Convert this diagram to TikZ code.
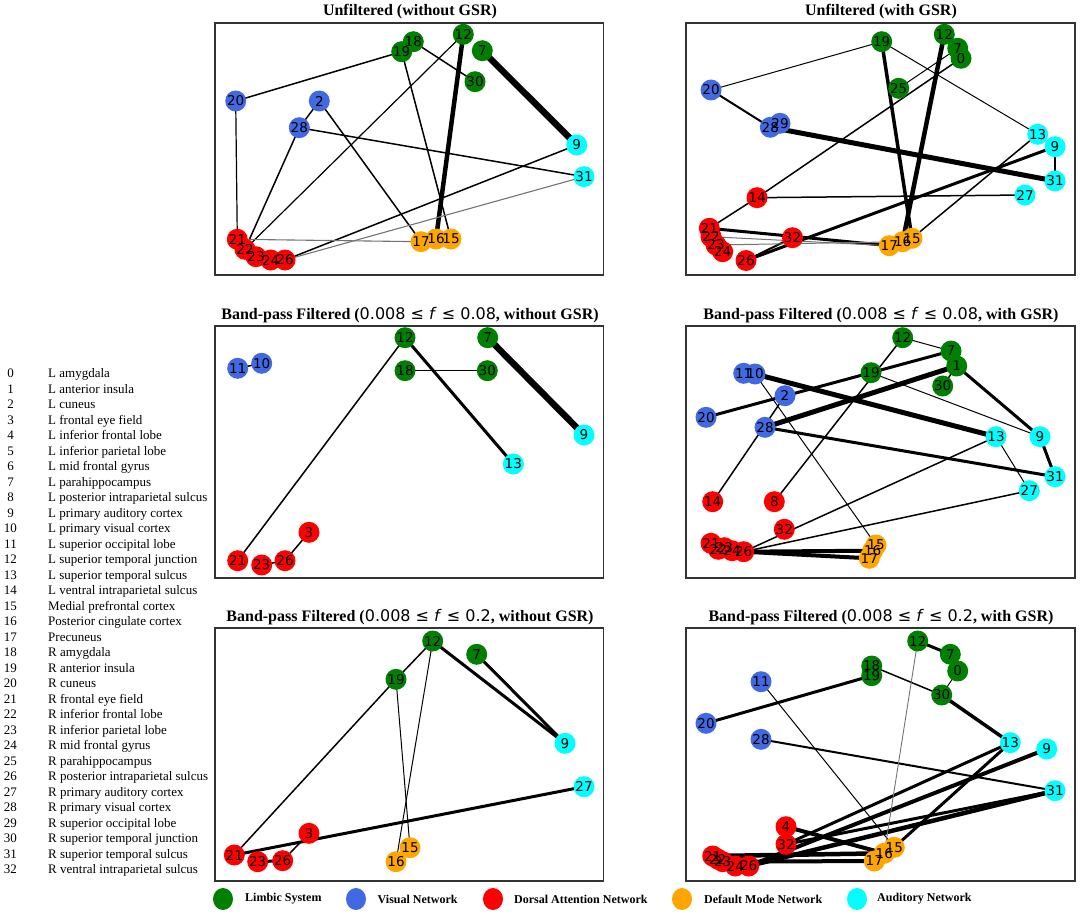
\documentclass[tikz,border=0pt]{standalone}
\usepackage{fontspec}
\setmainfont{Liberation Serif}
\newfontfamily\djv{DejaVu Sans}
\usetikzlibrary{shapes.geometric}
\pgfdeclarelayer{bg}
\pgfsetlayers{bg,main}
\definecolor{lim}{HTML}{008000}
\definecolor{vis}{HTML}{4169E1}
\definecolor{dan}{HTML}{FF0000}
\definecolor{dmn}{HTML}{FFA500}
\definecolor{aud}{HTML}{00FFFF}
\newcommand\frng[1]{{\djv\mdseries 0.008 ≤ \textit{f} ≤ #1}}
\begin{document}
\begin{tikzpicture}[x=1pt,y=-1pt,
 nd/.style={circle,inner sep=0pt,minimum size=21pt,draw=none},
 lbl/.style={font=\djv\fontsize{13.5}{13.5}\selectfont,inner sep=0pt},
 lk/.style={line width=#1pt,black},
 lkg/.style={line width=#1pt,black!55},
 frame/.style={draw=black!80,line width=1.2pt},
 ttl/.style={font=\bfseries\fontsize{16}{16}\selectfont,anchor=base,inner sep=0pt},
 num/.style={font=\fontsize{13}{13}\selectfont,anchor=base,inner sep=0pt},
 reg/.style={font=\fontsize{13}{13}\selectfont,anchor=base west,inner sep=0pt},
 legm/.style={ellipse,inner sep=0pt,minimum width=20pt,minimum height=22pt},
 legt/.style={font=\bfseries\fontsize{12}{12}\selectfont,anchor=west,inner sep=0pt}]

\useasboundingbox (0,0) rectangle (1084,915);

% frames
\draw[frame] (215,23) rectangle (603.5,275);
\draw[frame] (686,23) rectangle (1075,275);
\draw[frame] (215,326) rectangle (603.5,578);
\draw[frame] (686,326) rectangle (1075,578);
\draw[frame] (215,628) rectangle (603.5,881);
\draw[frame] (686,628) rectangle (1075,881);

% titles
\node[ttl] (t1) at (410,16) {Unfiltered (without GSR)};
\node[ttl] (t2) at (881,16) {Unfiltered (with GSR)};
\node[ttl] (t3) at (410,319) {Band-pass Filtered (\frng{0.08}, without GSR)};
\node[ttl] (t4) at (881,319) {Band-pass Filtered (\frng{0.08}, with GSR)};
\node[ttl] (t5) at (410,621) {Band-pass Filtered (\frng{0.2}, without GSR)};
\node[ttl] (t6) at (881,621) {Band-pass Filtered (\frng{0.2}, with GSR)};

% ---------------- Panel 1
\foreach \i/\x/\y/\c in {2/319.3/101/vis, 7/482.3/50.7/lim, 9/576.7/145/aud, 12/463.3/34.3/lim, 15/451/239/dmn, 16/436/239/dmn, 17/421/241.7/dmn, 18/413.3/41.7/lim, 19/401.7/51.7/lim, 20/235.7/101/vis, 21/237.3/239.3/dan, 22/245/249.3/dan, 23/256/256.7/dan, 24/270.7/260/dan, 26/285/260/dan, 28/299.3/127.7/vis, 30/475/81.7/lim, 31/584/176.7/aud}
  \node[nd,fill=\c] (p1n\i) at (\x,\y) {};
\begin{pgfonlayer}{bg}
\foreach \a/\b/\w in {19/20/1.5, 18/30/1.5, 19/15/1.5, 12/16/4.5, 7/9/6.5, 12/22/1.2, 2/28/1.5, 28/22/1.5, 2/17/1.5, 28/31/1.5, 9/26/1.5, 20/21/1.2}
  \draw[lk=\w] (p1n\a.center) -- (p1n\b.center);
\foreach \a/\b/\w in {31/26/1.1, 21/17/1.1}
  \draw[lkg=\w] (p1n\a.center) -- (p1n\b.center);
\end{pgfonlayer}
\foreach \i in {2,7,9,12,15,16,17,18,19,20,21,22,23,24,26,28,30,31}
  \node[lbl] at (p1n\i) {\i};

% ---------------- Panel 2
\foreach \i/\x/\y/\c in {0/961/58.3/lim, 7/957.7/48.3/lim, 9/1055/146.7/aud, 12/944.3/34.3/lim, 13/1037.7/134.3/aud, 14/757/197.7/dan, 15/912/238.3/dmn, 16/902.7/241.7/dmn, 17/889.3/245.7/dmn, 19/881.7/41.7/lim, 20/711/90/vis, 21/709.3/228.3/dan, 22/711/236.7/dan, 23/716/245/dan, 24/722.7/251.7/dan, 25/898.7/88.3/lim, 26/746/260.5/dan, 27/1025/195/aud, 28/770.3/127.3/vis, 29/780/123.3/vis, 31/1055/181/aud, 32/792.5/237.7/dan}
  \node[nd,fill=\c] (p2n\i) at (\x,\y) {};
\begin{pgfonlayer}{bg}
\foreach \a/\b/\w in {19/20/1, 19/13/1, 19/15/3.5, 12/16/4.5, 7/25/1, 0/14/1.5, 20/28/2, 28/31/5, 9/31/1.5, 14/27/1.5, 14/21/1.5, 21/17/3, 26/9/3, 26/32/2, 13/15/1.5}
  \draw[lk=\w] (p2n\a.center) -- (p2n\b.center);
\foreach \a/\b/\w in {22/17/1, 23/16/1}
  \draw[lkg=\w] (p2n\a.center) -- (p2n\b.center);
\end{pgfonlayer}
\foreach \i in {0,7,9,12,13,14,15,16,17,19,20,21,22,23,24,25,26,27,28,29,31,32}
  \node[lbl] at (p2n\i) {\i};

% ---------------- Panel 3
\foreach \i/\x/\y/\c in {3/309/532.3/dan, 7/487.7/337.7/lim, 9/584/435/aud, 10/261.7/363.3/vis, 11/237.7/368.3/vis, 12/405/337.7/lim, 13/513.3/464/aud, 18/405/370.7/lim, 21/237.7/560.7/dan, 23/261.7/565/dan, 26/285/560.7/dan, 30/487.3/370.7/lim}
  \node[nd,fill=\c] (p3n\i) at (\x,\y) {};
\begin{pgfonlayer}{bg}
\foreach \a/\b/\w in {12/21/1.5, 12/13/3, 18/30/1.5, 7/9/6.5, 11/10/1.5, 3/26/1.5, 23/26/1.5}
  \draw[lk=\w] (p3n\a.center) -- (p3n\b.center);
\end{pgfonlayer}
\foreach \i in {3,7,9,10,11,12,13,18,21,23,26,30}
  \node[lbl] at (p3n\i) {\i};

% ---------------- Panel 4
\foreach \i/\x/\y/\c in {1/956.7/366/lim, 2/785/395.7/vis, 7/951/351/lim, 8/774.3/501.7/dan, 9/1040/436.7/aud, 10/755/374/vis, 11/743.7/373.3/vis, 12/902.7/337.7/lim, 13/996/436.7/aud, 14/712.7/501.7/dan, 15/876/545/dmn, 16/872.7/550.7/dmn, 17/869.3/558.3/dmn, 19/871/372.7/lim, 20/706/417.3/vis, 21/711/543.3/dan, 22/718.3/549.3/dan, 23/724.3/547.7/dan, 24/732/550.7/dan, 26/743.7/551.7/dan, 27/1029.3/490.7/aud, 28/765/427.3/vis, 30/942.7/386/lim, 31/1055/476.7/aud, 32/784.3/529.3/dan}
  \node[nd,fill=\c] (p4n\i) at (\x,\y) {};
\begin{pgfonlayer}{bg}
\foreach \a/\b/\w in {12/7/1, 12/8/1.5, 7/20/3, 1/28/5, 1/9/3, 1/30/1.5, 10/13/5, 10/15/1, 19/9/1, 2/14/1.5, 28/31/3, 9/31/3, 13/27/1, 13/26/1.5, 27/26/1.5, 26/16/4, 26/17/4}
  \draw[lk=\w] (p4n\a.center) -- (p4n\b.center);
\end{pgfonlayer}
\foreach \i in {1,2,7,8,9,10,11,12,13,14,15,16,17,19,20,21,22,23,24,26,27,28,30,31,32}
  \node[lbl] at (p4n\i) {\i};

% ---------------- Panel 5
\foreach \i/\x/\y/\c in {3/309/833.3/dan, 7/476.7/654.3/lim, 9/565/743.3/aud, 12/432.7/641/lim, 15/410/847.7/dmn, 16/396/861.7/dmn, 19/396/679.3/lim, 21/234.3/855/dan, 23/257.7/861.7/dan, 26/282.7/860.7/dan, 27/584/786.7/aud}
  \node[nd,fill=\c] (p5n\i) at (\x,\y) {};
\begin{pgfonlayer}{bg}
\foreach \a/\b/\w in {12/19/1.5, 19/21/1.5, 12/9/3, 7/9/3, 19/15/1, 12/16/1, 21/27/3, 3/26/1.5, 23/26/3}
  \draw[lk=\w] (p5n\a.center) -- (p5n\b.center);
\end{pgfonlayer}
\foreach \i in {3,7,9,12,15,16,19,21,23,26,27}
  \node[lbl] at (p5n\i) {\i};

% ---------------- Panel 6
\foreach \i/\x/\y/\c in {0/957.7/671/lim, 4/786/826.7/dan, 7/950.3/654.3/lim, 9/1046.7/749/aud, 11/761/681.7/vis, 12/917.7/641/lim, 13/1010.3/742.7/aud, 15/894.3/847.3/dmn, 16/884.3/853.3/dmn, 17/874.3/861/dmn, 18/871.7/666/lim, 19/871.7/675.7/lim, 20/706/723.3/vis, 21/712.7/856/dan, 22/717.7/859/dan, 23/722.7/861.7/dan, 24/735.3/866/dan, 26/748.7/866/dan, 28/761/739.3/vis, 30/941.7/695/lim, 31/1055/790.7/aud, 32/786/844.3/dan}
  \node[nd,fill=\c] (p6n\i) at (\x,\y) {};
\begin{pgfonlayer}{bg}
\foreach \a/\b/\w in {12/7/3, 0/30/1, 18/30/1.5, 19/20/3, 11/15/1, 28/31/2, 30/13/3.5, 32/13/3, 13/15/3, 26/9/4, 26/31/4.5, 32/31/3, 4/16/4, 21/16/4.5, 23/17/4}
  \draw[lk=\w] (p6n\a.center) -- (p6n\b.center);
\foreach \a/\b/\w in {12/16/0.9}
  \draw[lkg=\w] (p6n\a.center) -- (p6n\b.center);
\end{pgfonlayer}
\foreach \i in {0,4,7,9,11,12,13,15,16,17,18,19,20,21,22,23,24,26,28,30,31,32}
  \node[lbl] at (p6n\i) {\i};

% ---------------- region list
\foreach \i/\t in {0/L amygdala, 1/L anterior insula, 2/L cuneus, 3/L frontal eye field, 4/L inferior frontal lobe, 5/L inferior parietal lobe, 6/L mid frontal gyrus, 7/L parahippocampus, 8/L posterior intraparietal sulcus, 9/L primary auditory cortex, 10/L primary visual cortex, 11/L superior occipital lobe, 12/L superior temporal junction, 13/L superior temporal sulcus, 14/L ventral intraparietal sulcus, 15/Medial prefrontal cortex, 16/Posterior cingulate cortex, 17/Precuneus, 18/R amygdala, 19/R anterior insula, 20/R cuneus, 21/R frontal eye field, 22/R inferior frontal lobe, 23/R inferior parietal lobe, 24/R mid frontal gyrus, 25/R parahippocampus, 26/R posterior intraparietal sulcus, 27/R primary auditory cortex, 28/R primary visual cortex, 29/R superior occipital lobe, 30/R superior temporal junction, 31/R superior temporal sulcus, 32/R ventral intraparietal sulcus}
{
  \node[num] (num\i) at (10.5,{377.5+15.5*\i}) {\i};
  \node[reg] (reg\i) at (48,{377.5+15.5*\i}) {\t};
}

% ---------------- legend
\node[legm,fill=lim] (lg1) at (223,899) {};
\node[legt] (lt1) at (245,899) {Limbic System};
\node[legm,fill=vis] (lg2) at (356,899) {};
\node[legt] (lt2) at (377.5,899) {Visual Network};
\node[legm,fill=dan] (lg3) at (493,899) {};
\node[legt] (lt3) at (514,899) {Dorsal Attention Network};
\node[legm,fill=dmn] (lg4) at (682,899) {};
\node[legt] (lt4) at (704,899) {Default Mode Network};
\node[legm,fill=aud] (lg5) at (857,899) {};
\node[legt] (lt5) at (877,899) {Auditory Network};
\end{tikzpicture}
\end{document}
